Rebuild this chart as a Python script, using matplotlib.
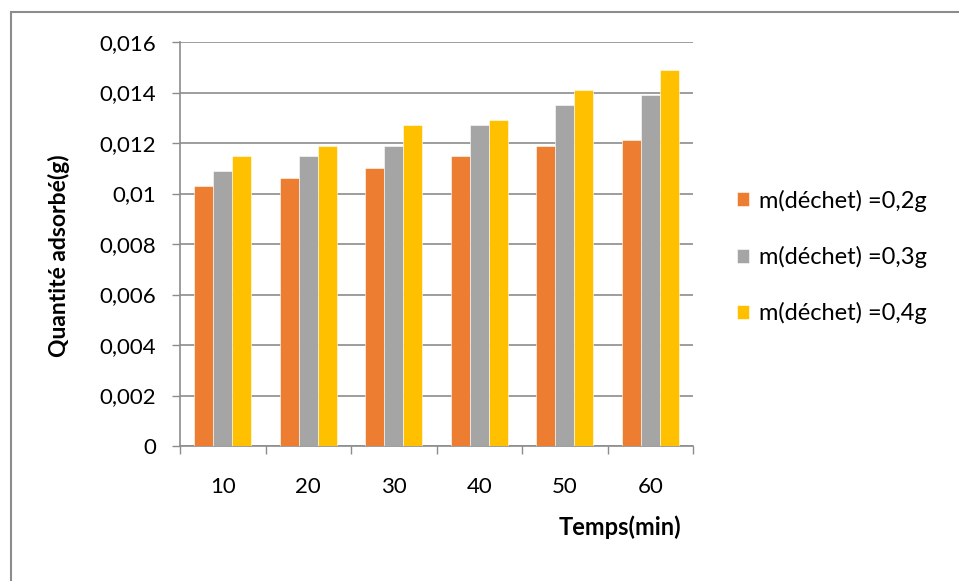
import matplotlib.pyplot as plt
import numpy as np
from matplotlib.patches import Rectangle
from matplotlib.ticker import FuncFormatter

plt.rcParams['font.family'] = ['Lato', 'DejaVu Sans']

temps = ['10', '20', '30', '40', '50', '60']
m02 = [0.0103, 0.0106, 0.0110, 0.0115, 0.0119, 0.0121]
m03 = [0.0109, 0.0115, 0.0119, 0.0127, 0.0135, 0.0139]
m04 = [0.0115, 0.0119, 0.0127, 0.0129, 0.0141, 0.0149]
labels = ['m(déchet) =0,2g', 'm(déchet) =0,3g', 'm(déchet) =0,4g']
colors = ['#ED7D31', '#A5A5A5', '#FFC000']

W, H = 959, 581
fig = plt.figure(figsize=(W / 100, H / 100), dpi=100)
# outer chart frame (only top/left visible, like the cropped original)
fig.patches.append(Rectangle((11 / W, -0.1), 1.2, 1.1 - 12 / H, transform=fig.transFigure,
                             fill=False, edgecolor='#8c8c8c', linewidth=1.5))
ax = fig.add_axes([180 / W, 1 - 446 / H, 513 / W, 404 / H])

x = np.arange(len(temps))
w = 0.222
for i, (vals, lab, c) in enumerate(zip([m02, m03, m04], labels, colors)):
    ax.bar(x + (i - 1) * w, vals, w, color=c, label=lab, zorder=3,
           edgecolor='white', linewidth=0.4)

ax.set_xlim(-0.5, len(temps) - 0.5)
ax.set_ylim(0, 0.016)
ax.set_yticks(np.arange(0, 0.0161, 0.002))
ax.yaxis.set_major_formatter(FuncFormatter(
    lambda v, p: '0' if v == 0 else ('%g' % round(v, 4)).replace('.', ',')))
ax.set_xticks(x)
ax.set_xticklabels(temps)
ax.set_xticks(np.arange(-0.5, len(temps)), minor=True)
ax.tick_params(axis='x', which='major', length=0, pad=22, labelsize=16)
ax.tick_params(axis='x', which='minor', length=6, color='#8c8c8c', width=1)
ax.tick_params(axis='y', length=6, color='#8c8c8c', width=1, labelsize=16, pad=11)
ax.grid(axis='y', color='#8c8c8c', linewidth=1.2, zorder=0)
for s in ['top', 'right']:
    ax.spines[s].set_visible(False)
for s in ['left', 'bottom']:
    ax.spines[s].set_color('#8c8c8c')
    ax.spines[s].set_linewidth(1.2)

fig.text(59 / W, 1 - 256 / H, 'Quantité adsorbé(g)', rotation=90, ha='center',
         va='center', fontsize=16.5, fontweight='bold')
fig.text(620 / W, 1 - 527 / H, 'Temps(min)', ha='center', va='center',
         fontsize=17, fontweight='bold')

fig.legend(*ax.get_legend_handles_labels(), loc='center left',
           bbox_to_anchor=(737 / W, 1 - 257 / H), frameon=False,
           fontsize=17, handlelength=0.52, handleheight=0.52, handletextpad=0.4,
           labelspacing=1.45, borderpad=0, borderaxespad=0)

fig.savefig('out.png', dpi=100)
